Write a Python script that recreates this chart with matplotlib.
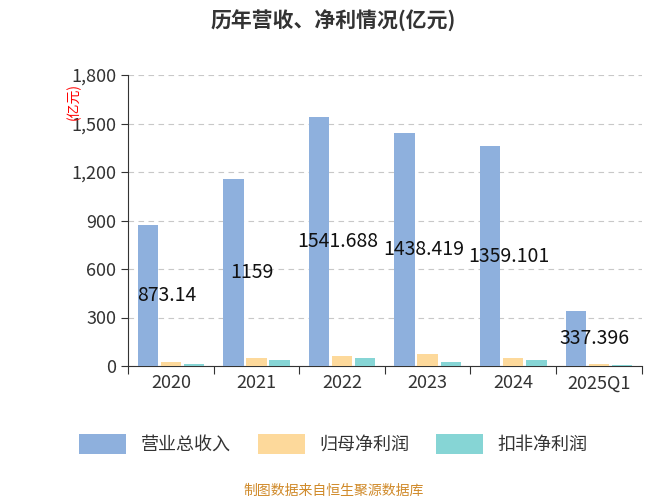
import matplotlib
matplotlib.use("Agg")
import matplotlib.pyplot as plt
import numpy as np
from matplotlib.ticker import FuncFormatter

plt.rcParams['font.family'] = ['Noto Sans CJK SC', 'DejaVu Sans']

years = ["2020", "2021", "2022", "2023", "2024", "2025Q1"]
revenue = [873.14, 1159, 1541.688, 1438.419, 1359.101, 337.396]
net_profit = [25, 47, 62, 74, 47, 10]
net_profit_ex = [14, 37, 47, 27, 40, 9]
labels = ["873.14", "1159", "1541.688", "1438.419", "1359.101", "337.396"]
series_names = ["营业总收入", "归母净利润", "扣非净利润"]
colors = ["#8eb0dd", "#fdd99b", "#86d5d5"]

fig = plt.figure(figsize=(6.67, 5.0), dpi=100)
ax = fig.add_axes([0.192, 0.268, 0.77, 0.582])
x = np.arange(len(years))
w = 0.27
for i, (vals, c) in enumerate(zip([revenue, net_profit, net_profit_ex], colors)):
    ax.bar(x + (i - 1) * w, vals, w * 0.88, color=c, label=series_names[i], zorder=3)
for xi, v, t in zip(x, revenue, labels):
    ax.text(xi - 0.05, v / 2, t, ha='center', va='center', fontsize=14, color='#111', zorder=4)

ax.set_ylim(0, 1800)
ax.set_yticks(range(0, 1801, 300))
ax.yaxis.set_major_formatter(FuncFormatter(lambda v, p: f"{int(v):,}"))
ax.set_xlim(-0.5, len(years) - 0.5)
ax.set_xticks(np.arange(-0.5, len(years), 1), minor=False)
ax.set_xticklabels([])
ax.set_xticks(x, minor=True)
ax.set_xticklabels(years, minor=True)
ax.tick_params(axis='x', which='minor', length=0, labelsize=13, pad=6, labelcolor='#333')
ax.tick_params(axis='x', which='major', length=6, color='#333')
ax.tick_params(axis='y', labelsize=13, length=5, color='#333', labelcolor='#333')
ax.grid(axis='y', linestyle=(0, (5, 4)), color='#c8c8c8', zorder=0)
for s in ['top', 'right']:
    ax.spines[s].set_visible(False)
ax.spines['left'].set_color('#333')
ax.spines['bottom'].set_color('#333')
ax.text(-0.105, 0.91, "(亿元)", transform=ax.transAxes, rotation=90, color='red',
        fontsize=10, ha='center', va='center')

fig.text(0.5, 0.958, "历年营收、净利情况(亿元)", ha='center', va='center', fontsize=15, fontweight='bold', color='#333')
fig.legend(loc='center', bbox_to_anchor=(0.5, 0.112), ncol=3, frameon=False, fontsize=13,
           handlelength=2.6, handleheight=1.3, columnspacing=1.5, labelcolor='#333')
fig.text(0.5, 0.018, "制图数据来自恒生聚源数据库", ha='center', va='center', fontsize=10, color='#d08a2a')
fig.savefig("out.png", dpi=100)
